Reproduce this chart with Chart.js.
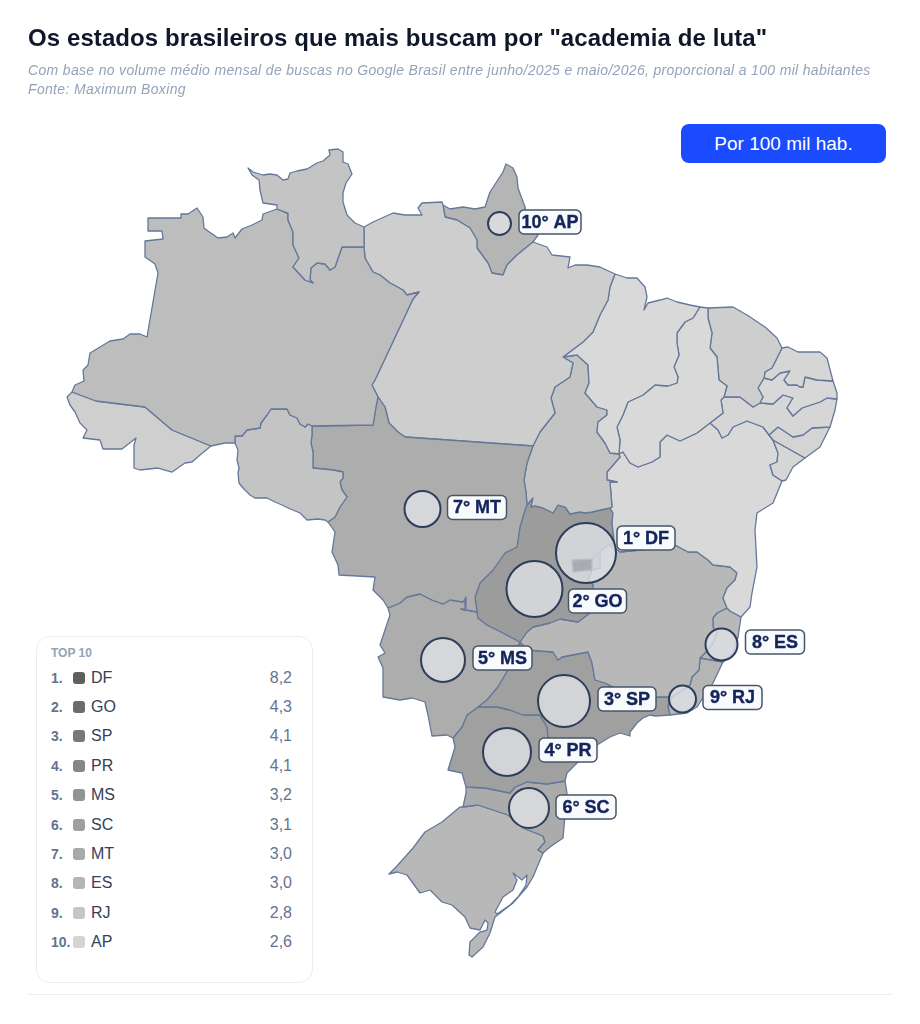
<!DOCTYPE html>
<html lang="pt-BR">
<head>
<meta charset="utf-8">
<title>Academia de luta</title>
<script src="https://cdn.jsdelivr.net/npm/chart.js@4"></script>
<style>
  html, body { margin: 0; padding: 0; background: #fff; overflow: hidden; }
  body { width: 920px; height: 1024px; position: relative; font-family: "Liberation Sans", Arial, sans-serif; }
  #myChart { position: absolute; left: 0; top: 0; }
  h1 { position: absolute; left: 28px; top: 22.5px; margin: 0; font-size: 24px; line-height: 30px; font-weight: 700; color: #0f172a; letter-spacing: 0.09px; white-space: nowrap; }
  .sub { position: absolute; left: 28px; top: 61px; font-size: 14px; line-height: 19px; font-style: italic; color: #94a3b8; letter-spacing: 0.33px; white-space: nowrap; }
  #btn { position: absolute; left: 681px; top: 124px; width: 205px; height: 39px; line-height: 39px; border-radius: 8px; background: #1a4bff; color: #fff; font-size: 19px; text-align: center; }
  #box { position: absolute; left: 36px; top: 636px; width: 275px; height: 345px; border: 1.5px solid #e8edf4; border-radius: 14px; background: #fff; }
  #box .head { position: absolute; left: 14px; top: 9px; font-size: 12px; font-weight: 700; color: #94a3b8; }
  .row { position: absolute; left: 0; width: 100%; height: 20px; line-height: 20px; }
  .row .n { position: absolute; left: 14px; font-size: 14px; font-weight: 700; color: #64748b; }
  .row .s { position: absolute; left: 36px; top: 4px; width: 12px; height: 12px; border-radius: 3px; }
  .row .c { position: absolute; left: 54px; font-size: 16px; color: #334155; }
  .row .v { position: absolute; right: 20px; font-size: 16px; color: #64748b; }
  #rule { position: absolute; left: 28px; top: 994px; width: 864px; height: 1px; background: #e8edf4; }
</style>
</head>
<body>
<canvas id="myChart" width="920" height="1024"></canvas>
<h1>Os estados brasileiros que mais buscam por "academia de luta"</h1>
<div class="sub">Com base no volume médio mensal de buscas no Google Brasil entre junho/2025 e maio/2026, proporcional a 100 mil habitantes<br>Fonte: Maximum Boxing</div>
<div id="btn">Por 100 mil hab.</div>
<div id="box"><div class="head">TOP 10</div></div>
<div id="rule"></div>
<script>
// ranking
const rankStates = ['DF', 'GO', 'SP', 'PR', 'MS', 'SC', 'MT', 'ES', 'RJ', 'AP'];
const rankValues = ['8,2', '4,3', '4,1', '4,1', '3,2', '3,1', '3,0', '3,0', '2,8', '2,6'];
const rankColors = ['#5f5f5f', '#6b6b6b', '#787878', '#868686', '#939393', '#9f9f9f', '#a9a9a9', '#b5b5b5', '#c5c5c5', '#d4d4d4'];

// bubbles, in map grid units
const bubbleX = [586, 534.5, 564, 507, 443, 529, 422.5, 721.5, 682.5, 499.5];
const bubbleY = [553, 589, 701, 752, 660, 808, 509, 644.5, 699, 223.5];
const bubbleR = [30, 28, 26, 24, 22, 20, 18, 16, 13.5, 11.5];

// state borders, in the same grid, shared between neighbours
const rrCoast = [[277,209],[277,205],[263,203],[260,190],[259,180],[252,175],[248,168],[253,172],[263,175],[270,174],[277,175],[283,180],[288,179],[290,173],[297,171],[307,169],[317,163],[323,161],[330,155],[329,150],[338,149],[343,152],[343,162],[348,164],[352,174],[346,183],[343,193],[343,202],[347,215],[355,223],[364,227]];
const rrPa = [[364,227],[364,247]];
const rrAm = [[364,247],[342,247],[335,267],[330,270],[325,264],[317,263],[311,268],[310,280],[313,283],[305,280],[293,267],[299,258],[293,245],[293,232],[288,220],[288,213],[277,209]];
const amCoast = [[277,209],[263,214],[262,220],[252,225],[242,229],[235,238],[233,233],[227,237],[218,238],[208,231],[204,228],[203,217],[197,208],[188,214],[181,214],[181,218],[148,218],[148,231],[162,231],[163,239],[145,241],[145,257],[155,264],[158,273],[147,337],[140,334],[130,334],[123,339],[110,341],[90,353],[88,365],[83,370],[84,381],[75,385],[72,392]];
const acAm = [[72,392],[96,401],[145,407],[172,430],[211,446]];
const acCoast = [[72,392],[67,397],[70,405],[75,412],[80,423],[87,430],[83,438],[100,440],[103,449],[122,449],[136,438],[134,445],[134,468],[140,470],[158,468],[172,472],[185,463],[192,462],[200,455],[211,446]];
const amSouth = [[211,446],[225,443],[235,443]];
const amRo = [[235,443],[235,436],[242,436],[247,430],[260,428],[261,423],[267,415],[271,409],[287,409],[290,415],[297,418],[300,424],[305,427],[308,424],[312,426]];
const amMt = [[312,426],[373,425],[376,407],[378,397]];
const amPa = [[378,397],[372,385],[375,380],[413,299],[419,292],[407,295],[403,290],[390,283],[380,275],[373,272],[365,258],[364,247]];
const mtRo = [[312,426],[312,435],[311,443],[313,452],[313,468],[333,470],[343,472],[343,478],[340,482],[342,490],[347,497],[340,507],[335,517],[328,522]];
const roSouth = [[328,522],[325,520],[318,519],[307,520],[300,513],[288,508],[282,505],[275,502],[267,498],[255,498],[250,495],[243,488],[239,483],[238,473],[239,468],[237,460],[238,450],[235,443]];
const paMt = [[378,397],[385,407],[389,423],[398,432],[405,437],[533,446]];
const mtTo = [[533,446],[527,463],[524,480],[526,492],[527,505]];
const mtGo = [[527,505],[525,510],[520,527],[517,547],[505,553],[493,570],[480,583],[475,597],[477,612]];
const mtMs = [[388,608],[400,603],[407,597],[420,594],[432,600],[443,604],[450,600],[463,602],[466,597],[465,610],[461,609],[477,612]];
const mtOuter = [[328,522],[335,532],[332,552],[338,565],[339,575],[375,577],[373,590],[383,600],[388,608]];
const paCoast = [[364,227],[373,222],[382,218],[393,213],[405,215],[422,215],[418,208],[422,203],[442,202],[443,205]];
const paAp = [[443,205],[445,217],[457,220],[470,228],[477,240],[477,248],[488,263],[492,273],[503,275],[507,265],[517,255],[533,242]];
const apCoast = [[443,205],[450,209],[463,207],[475,209],[485,207],[490,192],[503,172],[506,164],[513,168],[517,177],[518,188],[525,207],[527,217],[538,235],[533,242]];
const paCoastEast = [[533,242],[547,247],[552,255],[570,257],[568,268],[575,265],[587,265],[600,267],[615,274]];
const paMa = [[615,274],[610,287],[608,300],[600,315],[593,332],[583,342],[563,357]];
const paTo = [[563,357],[573,363],[570,377],[555,387],[551,398],[555,413],[540,432],[533,446]];
const maCoast = [[615,274],[627,278],[637,278],[645,287],[647,297],[644,310],[648,303],[660,300],[667,298],[677,302],[690,305],[700,307]];
const maPi = [[700,307],[698,310],[693,318],[685,322],[677,333],[677,343],[679,355],[674,367],[678,377],[677,383],[668,386],[655,385],[643,395],[628,402],[623,415],[617,427],[620,440],[619,454]];
const toMa = [[563,357],[577,355],[588,365],[589,383],[585,393],[597,407],[607,410],[607,415],[598,422],[597,432],[605,443],[610,453],[619,454]];
const toBa = [[619,454],[620,457],[607,472],[607,480],[617,482],[610,482],[612,507],[610,508]];
const toGo = [[610,508],[592,512],[585,513],[580,512],[570,514],[565,507],[558,505],[553,513],[543,508],[535,506],[531,507],[533,498],[527,505]];
const piCoast = [[700,307],[708,308]];
const piCe = [[708,308],[708,318],[712,333],[710,348],[717,357],[719,380],[727,386],[724,397]];
const piPe = [[724,397],[721,400],[723,413],[710,423]];
const piBa = [[619,454],[623,452],[630,463],[638,467],[652,462],[660,457],[660,442],[667,435],[680,441],[697,433],[710,423]];
const ceCoast = [[708,308],[733,307],[747,315],[765,327],[777,338],[782,348]];
const rnCe = [[782,348],[775,362],[772,368],[765,372],[764,378]];
const cePb = [[764,378],[758,388],[763,397],[760,403]];
const cePe = [[760,403],[753,407],[740,397],[724,397]];
const rnCoast = [[782,348],[788,347],[798,352],[820,352],[827,358],[833,381]];
const rnPb = [[833,381],[817,380],[805,377],[803,387],[800,387],[797,385],[788,385],[784,380],[790,371],[780,373],[772,380],[764,378]];
const pbCoast = [[833,381],[837,393],[837,399]];
const pbPe = [[760,403],[773,404],[783,395],[793,398],[787,408],[793,416],[802,408],[820,402],[827,398],[837,399]];
const peCoast = [[837,399],[835,410],[830,427]];
const peAl = [[830,427],[812,428],[803,435],[793,437],[778,427],[769,435]];
const peBa = [[710,423],[718,430],[722,438],[728,435],[733,427],[747,421],[763,427],[769,435]];
const alCoast = [[830,427],[820,447],[805,458]];
const alSe = [[805,458],[773,440],[769,435]];
const seCoast = [[805,458],[793,467],[786,480],[782,481]];
const seBa = [[769,435],[773,440],[778,453],[777,462],[770,465],[773,475],[782,481]];
const baCoast = [[782,481],[773,503],[757,513],[755,530],[757,567],[752,593],[750,607],[741,617]];
const baEs = [[741,617],[730,611],[727,608]];
const baMg = [[615,548],[620,552],[640,550],[675,545],[688,552],[697,552],[708,560],[713,565],[730,567],[737,573],[735,580],[727,588],[723,598],[727,608]];
const goBa = [[615,548],[612,523],[613,513],[610,508]];
const goMg = [[615,548],[608,545],[600,552],[600,568],[592,570],[588,580],[593,585],[590,613],[578,622],[560,619],[550,623],[533,627],[527,632],[520,642]];
const goMs = [[477,612],[478,618],[487,625],[503,633],[520,642]];
const mgEs = [[727,608],[717,613],[713,618],[713,627],[717,633],[713,643],[708,650],[700,658]];
const mgRj = [[700,658],[699,670],[692,677],[690,685],[672,697]];
const mgSp = [[672,697],[657,697],[630,695],[605,683],[595,680],[592,663],[588,652],[562,657],[558,660],[553,652],[528,650],[520,642]];
const esCoast = [[741,617],[738,637],[733,653],[723,662]];
const esRj = [[723,662],[700,658]];
const rjCoast = [[723,662],[713,683],[697,707],[687,713],[670,715]];
const rjSp = [[670,715],[668,706],[672,697]];
const spCoast = [[670,715],[655,716],[650,715],[643,718],[637,723],[630,732],[630,736],[620,733],[610,737],[597,745],[590,750]];
const spPr = [[478,707],[497,707],[510,710],[523,715],[540,715],[547,727],[548,737],[565,745],[590,750]];
const msSp = [[520,642],[508,670],[498,687],[487,700],[478,707]];
const msPr = [[478,707],[467,715],[462,727],[453,738]];
const msOuter = [[453,738],[447,735],[432,736],[428,715],[425,702],[412,698],[400,700],[383,697],[383,668],[378,657],[385,653],[380,645],[385,630],[390,615],[388,608]];
const prCoast = [[590,750],[577,763],[567,773],[565,781]];
const prSc = [[466,787],[485,788],[510,793],[515,787],[527,782],[547,784],[565,781]];
const prOuter = [[466,787],[462,773],[448,770],[455,747],[453,738]];
const scCoast = [[565,781],[567,793],[563,838],[550,847],[543,853]];
const scRs = [[463,807],[478,805],[493,810],[508,815],[523,828],[543,836],[545,842],[538,850],[543,853]];
const scOuter = [[463,807],[466,793],[466,787]];
const rsCoast = [[543,853],[533,877],[527,887],[513,903],[495,917],[490,933],[483,947],[472,957],[469,955],[470,942],[480,932],[487,930],[488,923],[485,920],[480,930],[470,928],[465,917],[452,905],[442,902],[430,890],[420,893],[407,875],[397,872],[389,874],[397,866],[413,848],[425,832],[442,822],[460,807],[463,807]];
const lagoa = [[495,912],[503,897],[513,890],[517,880],[513,873],[522,880],[527,875],[526,885],[518,897],[510,905],[497,914],[495,912]];
const dfBox = [[572,560],[592,559],[592,570],[573,572],[572,560]];
const dfLine = [[582,566],[600,552]];

const rev = (arc) => [...arc].reverse();
const ring = (...arcs) => arcs.flat().map((p) => ({ x: p[0], y: p[1] }));

const stateRings = {
  RR: ring(rrCoast, rrPa, rrAm),
  AM: ring(amCoast, acAm, amSouth, amRo, amMt, amPa, rev(rrAm)),
  AC: ring(acCoast, rev(acAm)),
  RO: ring(amRo, mtRo, roSouth),
  MT: ring(amMt, paMt, mtTo, mtGo, rev(mtMs), rev(mtOuter), rev(mtRo)),
  PA: ring(paCoast, paAp, paCoastEast, paMa, paTo, rev(paMt), amPa, rev(rrPa)),
  AP: ring(apCoast, rev(paAp)),
  MA: ring(maCoast, maPi, rev(toMa), rev(paMa)),
  TO: ring(rev(paTo), toMa, toBa, toGo, rev(mtTo)),
  PI: ring(piCoast, piCe, piPe, rev(piBa), rev(maPi)),
  CE: ring(ceCoast, rnCe, cePb, cePe, rev(piCe)),
  RN: ring(rnCoast, rnPb, rev(rnCe)),
  PB: ring(pbCoast, rev(pbPe), rev(cePb), rev(rnPb)),
  PE: ring(pbPe, peCoast, peAl, rev(peBa), rev(piPe), rev(cePe)),
  AL: ring(rev(peAl), alCoast, alSe),
  SE: ring(rev(alSe), seCoast, rev(seBa)),
  BA: ring(piBa, peBa, seBa, baCoast, baEs, rev(baMg), goBa, rev(toBa)),
  GO: ring(rev(toGo), rev(goBa), goMg, rev(goMs), rev(mtGo)),
  MG: ring(baMg, mgEs, mgRj, mgSp, rev(goMg)),
  ES: ring(rev(baEs), esCoast, esRj, rev(mgEs)),
  RJ: ring(rev(esRj), rjCoast, rjSp, rev(mgRj)),
  SP: ring(rev(mgSp), rev(rjSp), spCoast, rev(spPr), rev(msSp)),
  MS: ring(mtMs, goMs, msSp, msPr, msOuter),
  PR: ring(spPr, prCoast, rev(prSc), prOuter, rev(msPr)),
  SC: ring(prSc, scCoast, rev(scRs), scOuter),
  RS: ring(scRs, rsCoast)
};

const stateFills = {
  RR: '#c4c4c4', AM: '#bdbdbd', AC: '#cfcfcf', RO: '#c4c4c4', MT: '#adadad', PA: '#cecece', AP: '#b5b5b5',
  MA: '#d9d9d9', TO: '#c4c4c4', PI: '#d9d9d9', CE: '#cecece', RN: '#d6d6d6', PB: '#d8d8d8', PE: '#d6d6d6',
  AL: '#d4d4d4', SE: '#d6d6d6', BA: '#d9d9d9', GO: '#9c9c9c', MG: '#b8b8b8', ES: '#b8b8b8', RJ: '#b5b5b5',
  SP: '#a0a0a0', MS: '#adadad', PR: '#a0a0a0', SC: '#ababab', RS: '#b8b8b8'
};

const borderColor = '#64789a';

function polygon(label, data, fillColor, order, lineColor) {
  return {
    type: 'scatter', label: label, data: data, showLine: true, fill: 'shape', tension: 0,
    backgroundColor: fillColor, borderColor: lineColor || borderColor, borderWidth: 1.3,
    borderJoinStyle: 'round', pointRadius: 0, order: order
  };
}

const datasets = Object.keys(stateRings).map((uf) => polygon(uf, stateRings[uf], stateFills[uf], 5));
datasets.push(polygon('Lagoa dos Patos', ring(lagoa), '#ffffff', 4));
datasets.push(polygon('DF-GO', ring(dfLine), 'transparent', 3));
datasets.push({
  type: 'bubble',
  label: 'Top 10',
  data: rankStates.map((uf, i) => ({ x: bubbleX[i], y: bubbleY[i], r: bubbleR[i] })),
  backgroundColor: 'rgba(226, 229, 233, 0.76)',
  borderColor: '#2c3e5a',
  borderWidth: 2,
  order: 0
});
datasets.push(polygon('DF', ring(dfBox), 'rgba(130, 133, 138, 0.5)', -1, '#b7c0cc'));

// label boxes: offset from each bubble's right edge and centre, and width
const labelGap = [0, 5, 7, 7, 7, 6, 6, 7, 6, 7];
const labelRise = [-15, 12, -2, -2, -2, -1, -1.5, -2.5, -1.5, -1.5];
const labelWidth = [58, 58, 58, 58, 59, 60, 59, 59, 59, 62];

const rankLabels = {
  id: 'rankLabels',
  afterDatasetsDraw(chart) {
    const ctx = chart.ctx;
    ctx.save();
    ctx.font = 'bold 18px "Liberation Sans", Arial, sans-serif';
    ctx.textAlign = 'center';
    ctx.textBaseline = 'middle';
    rankStates.forEach((uf, i) => {
      const text = (i + 1) + '° ' + uf;
      const w = labelWidth[i];
      const left = chart.scales.x.getPixelForValue(bubbleX[i]) + bubbleR[i] + 1 + labelGap[i];
      const mid = chart.scales.y.getPixelForValue(bubbleY[i]) + labelRise[i];
      ctx.beginPath();
      ctx.roundRect(left, mid - 12, w, 24, 5);
      ctx.fillStyle = '#f8fafc';
      ctx.fill();
      ctx.lineWidth = 1.5;
      ctx.strokeStyle = '#475569';
      ctx.stroke();
      ctx.fillStyle = '#14255c';
      ctx.strokeStyle = '#14255c';
      ctx.lineWidth = 0.4;
      ctx.strokeText(text, left + w / 2, mid + 1);
      ctx.fillText(text, left + w / 2, mid + 1);
    });
    ctx.restore();
  }
};

const box = document.getElementById('box');
rankStates.forEach((uf, i) => {
  const row = document.createElement('div');
  row.className = 'row';
  row.style.top = (30.5 + i * 29.4) + 'px';
  row.innerHTML = '<span class="n">' + (i + 1) + '.</span><span class="s" style="background:' + rankColors[i] + '"></span>' +
    '<span class="c">' + uf + '</span><span class="v">' + rankValues[i] + '</span>';
  box.appendChild(row);
});

new Chart(document.getElementById('myChart'), {
  type: 'scatter',
  data: { datasets: datasets },
  plugins: [rankLabels],
  options: {
    responsive: false,
    animation: false,
    events: [],
    layout: { padding: 0, autoPadding: false },
    plugins: { legend: { display: false }, tooltip: { enabled: false } },
    scales: {
      x: { display: false, min: 0, max: 920 },
      y: { display: false, min: 0, max: 1024, reverse: true }
    }
  }
});
</script>
</body>
</html>
